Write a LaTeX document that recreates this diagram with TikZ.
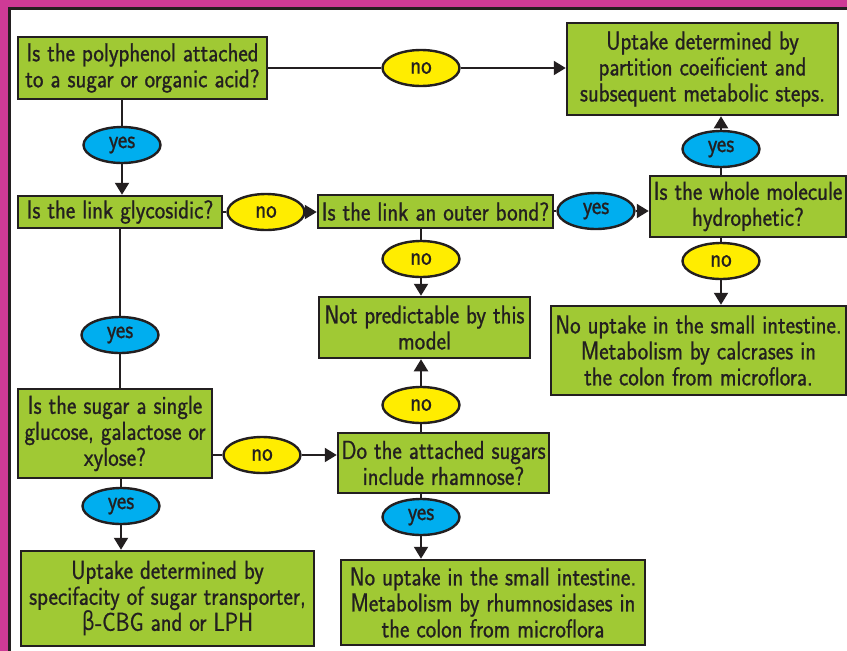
\documentclass[tikz,border=0pt]{standalone}
\usepackage{fontspec}
\setmainfont{Latin Modern Sans}[FakeStretch=0.86, FakeBold=0.8]
\newfontfamily\greekfont{DejaVu Sans}[FakeStretch=0.8]
\usetikzlibrary{shapes.geometric,arrows.meta}
\definecolor{frame}{RGB}{206,58,150}
\definecolor{boxgreen}{RGB}{160,201,52}
\definecolor{ecyan}{RGB}{0,174,239}
\definecolor{eyellow}{RGB}{255,237,0}
\definecolor{ink}{RGB}{35,31,32}
\tikzset{
  every node/.style={font=\fontsize{26}{26}\selectfont, text=ink},
  box/.style={draw=ink, line width=2.5pt, fill=boxgreen, rectangle, align=center, inner sep=0pt},
  yesl/.style={draw=ink, line width=2.4pt, fill=ecyan, ellipse, minimum width=77pt, minimum height=36pt, inner sep=0pt},
  nol/.style={draw=ink, line width=2.4pt, fill=eyellow, ellipse, minimum width=77pt, minimum height=36pt, inner sep=0pt},
  link/.style={draw=ink, line width=2pt},
  arr/.style={link, -{Triangle[width=14pt,length=12pt]}},
}
\begin{document}
\begin{tikzpicture}[x=1pt,y=-1pt]
\useasboundingbox (0,0) rectangle (847,651);
\fill[frame] (0,0) rectangle (847,651);
\fill[white] (9.5,8.5) rectangle (847,651);
\draw[ink, line width=3pt] (9.5,651) -- (9.5,8.5) -- (847,8.5);
% boxes
\node[box, minimum width=249pt, minimum height=62pt] (q1) at (142.5,68) {Is the polyphenol attached\\to a sugar or organic acid?};
\node[box, minimum width=271pt, minimum height=92pt] (r1) at (702.5,69) {Uptake determined by\\partition coeificient and\\subsequent metabolic steps.};
\node[box, minimum width=204pt, minimum height=32pt] (q2) at (120,212) {Is the link glycosidic?};
\node[box, minimum width=235pt, minimum height=33pt] (q3) at (435.5,211.5) {Is the link an outer bond?};
\node[box, minimum width=196pt, minimum height=61pt] (q4) at (748,206.5) {Is the whole molecule\\hydrophetic?};
\node[box, minimum width=295pt, minimum height=89pt] (r5) at (698.5,350.5) {No uptake in the small intestine.\\Metabolism by calcrases in\\the colon from microflora.};
\node[box, minimum width=211pt, minimum height=61pt] (r6) at (424.5,327.5) {Not predictable by this\\model};
\node[box, minimum width=211pt, minimum height=60pt] (q7) at (443.5,463) {Do the attached sugars\\include rhamnose?};
\node[box, minimum width=304pt, minimum height=85pt] (r8) at (493,602.5) {No uptake in the small intestine.\\Metabolism by rhumnosidases in\\the colon from microflora};
\node[box, minimum width=194pt, minimum height=89pt] (q9) at (115,433.5) {Is the sugar a single\\glucose, galactose or\\xylose?};
\node[box, minimum width=293pt, minimum height=95pt] (r10) at (167.5,598.5) {Uptake determined by\\specifacity of sugar transporter,\\{\greekfont β}-CBG and or LPH};
% labels
\node[nol]  (e1)  at (421,68)  {no};
\node[yesl] (e2)  at (122,145) {yes};
\node[nol]  (e3)  at (266,212) {no};
\node[yesl] (e4)  at (596,211) {yes};
\node[yesl] (e5)  at (721,149) {yes};
\node[nol]  (e6)  at (721,261) {no};
\node[nol]  (e7)  at (421,259) {no};
\node[yesl] (e8)  at (120,335) {yes};
\node[nol]  (e9)  at (421,405) {no};
\node[nol]  (e10) at (262,455) {no};
\node[yesl] (e11) at (121,506) {yes};
\node[yesl] (e12) at (421,517) {yes};
% connectors
\draw[link] (q1.east |- e1) -- (e1.west);
\draw[arr] (e1.east) -- (r1.west |- e1);
\draw[link] (q1.south -| e2) -- (e2.north);
\draw[arr] (e2.south) -- (q2.north -| e2);
\draw[link] (q2.east) -- (e3.west);
\draw[arr] (e3.east) -- (q3.west |- e3);
\draw[link] (q3.east |- e4) -- (e4.west);
\draw[arr] (e4.east) -- (q4.west |- e4);
\draw[link] (q4.north -| e5) -- (e5.south);
\draw[arr] (e5.north) -- (r1.south -| e5);
\draw[link] (q4.south -| e6) -- (e6.north);
\draw[arr] (e6.south) -- (r5.north -| e6);
\draw[link] (q3.south -| e7) -- (e7.north);
\draw[arr] (e7.south) -- (r6.north -| e7);
\draw[link] (q7.north -| e9) -- (e9.south);
\draw[arr] (e9.north) -- (r6.south -| e9);
\draw[link] (q7.south -| e12) -- (e12.north);
\draw[arr] (e12.south) -- (r8.north -| e12);
\draw[link] (q2.south -| e8) -- (e8.north);
\draw[link] (e8.south) -- (q9.north -| e8);
\draw[link] (q9.east |- e10) -- (e10.west);
\draw[arr] (e10.east) -- (q7.west |- e10);
\draw[link] (q9.south -| e11) -- (e11.north);
\draw[arr] (e11.south) -- (r10.north -| e11);
\end{tikzpicture}
\end{document}
